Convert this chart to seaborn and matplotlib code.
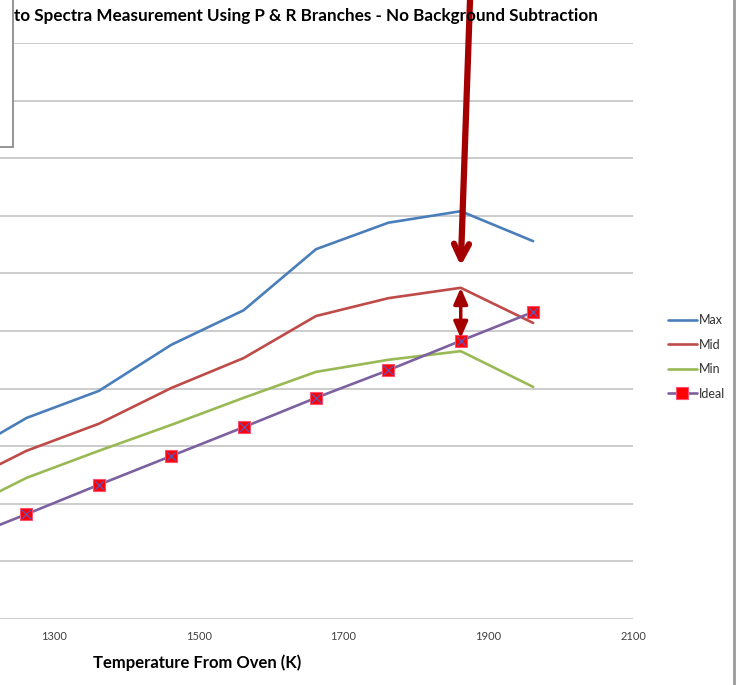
import matplotlib
matplotlib.use("Agg")
import matplotlib.pyplot as plt
import seaborn as sns
import pandas as pd
from matplotlib.lines import Line2D
from matplotlib.patches import Rectangle

# ---- data (y in gridline units) ----
temps = [1162, 1262, 1362, 1462, 1562, 1662, 1762, 1862, 1962]
max_vals = [2.76, 3.49, 3.96, 4.76, 5.36, 6.42, 6.88, 7.08, 6.56]
mid_vals = [2.29, 2.92, 3.39, 4.01, 4.53, 5.26, 5.57, 5.75, 5.14]
min_vals = [1.82, 2.45, 2.92, 3.37, 3.84, 4.29, 4.50, 4.65, 4.03]
ideal_vals = [1.32, 1.82, 2.33, 2.83, 3.33, 3.84, 4.32, 4.83, 5.33]
series_names = ["Max", "Mid", "Min", "Ideal"]
x_ticks = [1300, 1500, 1700, 1900, 2100]
title_text = "to Spectra Measurement Using P & R Branches - No Background Subtraction"
x_label = "Temperature From Oven (K)"

sns.set_theme(style="white")
plt.rcParams["font.family"] = ["Liberation Sans Narrow", "Lato", "DejaVu Sans"]

colors = {"Max": "#4a7ebb", "Mid": "#be4b48", "Min": "#98b954", "Ideal": "#7d60a0"}

fig = plt.figure(figsize=(7.4, 6.85), dpi=100)
ax = fig.add_axes([0.0, (685 - 619) / 685, 633 / 740, 576 / 685])

df = pd.DataFrame({"T": temps, "Max": max_vals, "Mid": mid_vals,
                   "Min": min_vals, "Ideal": ideal_vals})

for name in ["Max", "Mid", "Min"]:
    sns.lineplot(data=df, x="T", y=name, ax=ax, color=colors[name], lw=1.9,
                 label=name, clip_on=True)
sns.lineplot(data=df, x="T", y="Ideal", ax=ax, color=colors["Ideal"], lw=1.9,
             marker="s", markersize=9, markerfacecolor="#ff0000",
             markeredgecolor="#ff5070", markeredgewidth=0.8, label="Ideal")
sns.scatterplot(data=df, x="T", y="Ideal", ax=ax, marker="x", s=40,
                color="#6a4fb0", linewidth=1.0, zorder=5, legend=False)

ax.set_xlim(1225.4, 2100)
ax.set_ylim(0, 10)
ax.set_xticks(x_ticks)
ax.set_xticklabels([str(t) for t in x_ticks], fontsize=8, color="#404040")
ax.set_yticks(range(0, 11))
ax.set_yticklabels([])
ax.tick_params(axis="both", length=0, pad=9)
ax.grid(axis="y", color="#c8c8c8", lw=1.3)
ax.grid(axis="x", visible=False)
for s in ax.spines.values():
    s.set_visible(False)
ax.set_ylabel("")
ax.set_xlabel(x_label, fontsize=12, fontweight="bold", color="#000000")
ax.xaxis.set_label_coords(197 / 633, -35 / 576)

# legend
leg = ax.legend(loc="center left", bbox_to_anchor=(663 / 633, (619 - 357) / 576),
                frameon=False, fontsize=9, handlelength=2.3, handletextpad=0.15,
                labelspacing=1.0, borderaxespad=0)
for t in leg.get_texts():
    t.set_color("#303030")

# annotations: arrows
mid_peak = mid_vals[7]
ideal_pt = ideal_vals[7]
ax.annotate("", xy=(temps[7], mid_peak + 0.38), xycoords="data",
            xytext=(470 / 633, 619 / 576), textcoords="axes fraction",
            arrowprops=dict(arrowstyle="->,head_length=0.9,head_width=0.45",
                            color="#a50000", lw=4.5, shrinkA=0, shrinkB=0),
            annotation_clip=False)
ax.annotate("", xy=(temps[7], mid_peak), xycoords="data",
            xytext=(temps[7], ideal_pt), textcoords="data",
            arrowprops=dict(arrowstyle="<|-|>,head_length=0.8,head_width=0.35",
                            color="#a50000", lw=2.5, shrinkA=2, shrinkB=0))

# title (partially covered)
fig.text(14 / 740, 1 - 16.5 / 685, title_text, fontsize=12.3, fontweight="bold",
         ha="left", va="center", color="#000000")

# covering box top-left and right border
fig.add_artist(Rectangle((-0.01, 1 - 147 / 685), 13 / 740 + 0.01, 147 / 685 + 0.01,
                         transform=fig.transFigure, facecolor="white",
                         edgecolor="#8c8c8c", lw=1.3))
fig.add_artist(Line2D([734 / 740, 734 / 740], [0, 1], transform=fig.transFigure,
                      color="#9a9a9a", lw=2))

fig.savefig("out.png", dpi=100)
